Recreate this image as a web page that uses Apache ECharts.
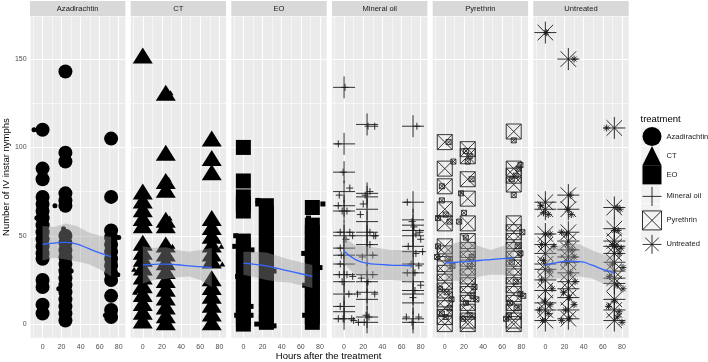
<!DOCTYPE html>
<html>
<head>
<meta charset="utf-8">
<script src="https://cdn.jsdelivr.net/npm/echarts@6/dist/echarts.min.js"></script>
<style>
  html, body { margin: 0; padding: 0; background: #fff; }
  #chart { width: 708px; height: 362px; }
</style>
</head>
<body>
<div id="chart"></div>
<script>
var treatments = ['Azadirachtin', 'CT', 'EO', 'Mineral oil', 'Pyrethrin', 'Untreated'];
var hours = [0, 24, 72];
var xTicks = [0, 20, 40, 60, 80];
var yTicks = [0, 50, 100, 150];
var xMinor = [-10, 10, 30, 50, 70];
var yMinor = [25, 75, 125];

// nymph counts at 0 / 24 / 72 h
var azaH0 = [110, 88, 82, 72, 68, 64, 60, 56, 52, 48, 44, 40, 37, 25, 21, 11, 6];
var azaH24 = [143, 97, 92, 74, 70, 67, 50, 46, 42, 38, 34, 30, 26, 22, 18, 14, 10, 6, 2];
var azaH72 = [105, 72, 53, 49, 45, 41, 37, 33, 29, 25, 16, 8, 4];
var ctH0 = [152, 75, 70, 65, 60, 56, 46, 41, 37, 32, 27, 22, 17, 12, 7, 2];
var ctH24 = [131, 97, 81, 76, 59, 56, 45, 40, 35, 30, 25, 20, 15, 10, 5, 1];
var ctH72 = [105, 94, 86, 60, 55, 50, 45, 40, 36, 26, 21, 16, 11, 6, 1];
var eoH0 = [100, 81, 72, 68, 64, 47, 43, 39, 35, 31, 27, 23, 19, 15, 11, 7, 3, 0];
var eoH24 = [67, 63, 59, 55, 51, 47, 43, 39, 35, 31, 27, 23, 19, 15, 11, 7, 3, 1];
var eoH72 = [66, 56, 52, 48, 44, 40, 36, 32, 28, 24, 20, 16, 12, 8, 4, 1];
var moH0 = [134, 102, 86, 75, 67, 64, 52, 50, 43, 39, 34, 28, 24, 17, 10, 7, 3];
var moH24 = [113, 74, 72, 65, 58, 52, 50, 45, 39, 28, 24, 18, 14, 4, 1];
var moH72 = [112, 69, 59, 56, 53, 50, 44, 41, 34, 29, 24, 19, 17, 12, 3, 1];
var pyrH0 = [103, 88, 78, 65, 57, 44, 40, 34, 29, 24, 19, 14, 9, 4, 0];
var pyrH24 = [99, 95, 82, 71, 57, 47, 42, 37, 32, 27, 22, 17, 12, 7, 2, 0];
var pyrH72 = [109, 88, 84, 79, 57, 52, 47, 42, 37, 32, 27, 22, 17, 12, 7, 2, 0];
var untH0 = [165, 69, 65, 51, 45, 40, 34, 31, 25, 19, 12, 8, 2];
var untH24 = [150, 73, 65, 52, 47, 42, 38, 35, 29, 24, 20, 15, 8, 3];
var untH72 = [111, 66, 54, 47, 44, 40, 35, 30, 26, 23, 14, 8, 2];

// small jittered points [hours, count]
var azaJit = [[-9, 110], [-6, 60], [2, 40], [24, 74], [13, 67], [22, 54], [27, 40], [30, 30], [17, 20], [74, 47], [80, 49], [76, 35], [79, 28], [66, 5]];
var ctJit = [[29, 131], [27, 82], [28, 60], [-9, 31], [31, 44], [-8, 18], [83, 34], [82, 44], [78, 48]];
var eoJit = [[-8, 50], [-9, 44], [-6, 27], [9, 42], [8, 10], [8, 5], [-7, 5], [15, 70], [15, 68], [20, 45], [32, 30], [32, -1], [14, 0], [24, 60], [63, 40], [83, 68], [68, 60], [64, 22], [80, 32], [64, 5], [76, 0]];
var moJit = [[1, 134], [-6, 102], [-1, 86], [6, 77], [-5, 73], [-6, 67], [-2, 64], [3, 64], [-4, 52], [6, 52], [9, 50], [2, 48], [-4, 43], [-3, 39], [-4, 34], [-5, 28], [3, 28], [9, 27], [-2, 24], [5, 17], [-4, 10], [-6, 3], [-1, 3], [8, 3], [10, 2],
  [25, 112], [32, 112], [27, 75], [22, 73], [20, 68], [17, 62], [27, 52], [31, 50], [33, 50], [27, 45], [30, 39], [19, 38], [30, 28], [18, 26], [25, 24], [32, 17], [14, 17], [23, 5], [15, 1], [21, 1], [26, 4],
  [76, 112], [66, 69], [71, 58], [73, 55], [75, 51], [79, 52], [80, 48], [67, 44], [75, 40], [82, 41], [70, 34], [78, 33], [66, 29], [74, 29], [80, 22], [74, 19], [72, 15], [65, 4], [71, 1], [78, 4]];
var pyrJit = [[4, 103], [9, 92], [-3, 78], [-3, 70], [1, 62], [-7, 60], [5, 58], [-7, 44], [-8, 38], [3, 37], [8, 33], [-5, 20], [2, 18], [7, 14], [5, 9], [-3, 6], [1, 4],
  [22, 98], [26, 95], [24, 92], [28, 82], [17, 74], [20, 63], [15, 58], [22, 49], [28, 38], [26, 33], [31, 21], [29, 16], [22, 12], [33, 14], [26, 5], [19, 3],
  [72, 104], [79, 90], [77, 88], [74, 84], [70, 82], [72, 73], [81, 52], [76, 44], [79, 40], [70, 35], [74, 24], [79, 17], [68, 12], [75, 9], [82, 16], [64, 3], [67, 5]];
var untJit = [[-5, 67], [-2, 63], [3, 62], [0, 51], [5, 51], [-4, 45], [9, 44], [-2, 36], [4, 30], [-4, 25], [7, 20], [-1, 13], [5, 11], [-6, 8], [3, 6], [-3, 2],
  [26, 73], [23, 65], [27, 62], [17, 52], [22, 51], [23, 45], [28, 42], [30, 38], [22, 35], [26, 29], [31, 24], [19, 18], [25, 15], [30, 11], [21, 8], [25, 3], [17, 2],
  [75, 66], [78, 65], [72, 53], [76, 53], [70, 45], [74, 44], [79, 43], [77, 40], [70, 34], [81, 32], [67, 27], [75, 22], [81, 20], [72, 13], [66, 10], [77, 7], [75, 4], [80, 1],
  [1, 165], [30, 150], [64, 111]];

// loess fit and confidence band
var smoothX = [0, 12, 24, 36, 48, 60, 72];
var azaFit = [45.2, 45.8, 46.3, 45.3, 42.8, 40.3, 38.2];
var azaLo = [36, 37.5, 36.5, 35.5, 34, 31, 27];
var azaHi = [55.5, 55, 57, 55.5, 52, 50, 49.5];
var ctFit = [33.5, 33.8, 34, 33.6, 33, 32.5, 32];
var ctLo = [23, 25, 25.5, 26.5, 27, 25, 21];
var ctHi = [44, 43, 43.5, 42, 41, 42, 43];
var eoFit = [34.5, 33.8, 33, 31.5, 30, 28.5, 27];
var eoLo = [28, 26.5, 25, 24, 23.5, 22, 20.5];
var eoHi = [41, 41, 40.5, 38.5, 36.5, 35, 33.5];
var moFit = [41.4, 36.5, 34.5, 33.8, 33.4, 33.2, 33];
var moLo = [34, 28, 25, 25, 25, 24.5, 23];
var moHi = [49, 44.5, 44, 43, 42, 42, 42];
var pyrFit = [34.5, 35, 35.4, 36, 36.5, 37, 37.3];
var pyrLo = [24, 24.5, 24, 27, 28, 28, 27];
var pyrHi = [44, 46, 46.7, 44, 42, 44, 46];
var untFit = [33.5, 34.8, 35.6, 35.4, 33.5, 31, 29];
var untLo = [25, 26, 25.5, 27, 26, 23, 21];
var untHi = [42, 44, 46, 45, 42, 39.5, 38];

var counts = [[azaH0, azaH24, azaH72], [ctH0, ctH24, ctH72], [eoH0, eoH24, eoH72],
  [moH0, moH24, moH72], [pyrH0, pyrH24, pyrH72], [untH0, untH24, untH72]];
var jitters = [azaJit, ctJit, eoJit, moJit, pyrJit, untJit];
var fits = [azaFit, ctFit, eoFit, moFit, pyrFit, untFit];
var lows = [azaLo, ctLo, eoLo, moLo, pyrLo, untLo];
var highs = [azaHi, ctHi, eoHi, moHi, pyrHi, untHi];

var FONT = '"Liberation Sans", Arial, sans-serif';
var plusPath = 'path://M0,-10V10M-10,0H10';
var boxPath = 'path://M-10,-10H10V10H-10ZM-10,-10L10,10M10,-10L-10,10';
var starPath = 'path://M0,-10V10M-10,0H10M-7.07,-7.07L7.07,7.07M7.07,-7.07L-7.07,7.07';
var bigSymbols = ['circle', 'triangle', 'rect', plusPath, boxPath, starPath];
var bigSizes = [14, [20, 16], 15, 22, 15, 22];
var smallSizes = [5, [6, 5], 5, 7, 5, 7];
var hollow = [false, false, false, true, true, true];

var panelLeft = [30, 130.7, 231.3, 332, 432.7, 533.3];
var panelW = 95.4;
var panelTop = 16.5;
var panelH = 321.2;

function markStyle(i) {
  if (hollow[i]) {
    return { color: 'none', borderColor: i === 4 ? '#222' : '#1a1a1a', borderWidth: 0.9, opacity: 1 };
  }
  return { color: '#000', borderWidth: 0, opacity: 1 };
}

var grids = [], xAxes = [], yAxes = [], series = [], graphics = [];

treatments.forEach(function (t, i) {
  grids.push({
    left: panelLeft[i], top: panelTop, width: panelW, height: panelH,
    show: true, backgroundColor: '#EBEBEB', borderWidth: 0
  });
  xAxes.push({
    gridIndex: i, type: 'value', min: -12.6, max: 87,
    axisLine: { show: false },
    splitLine: { show: false },
    axisTick: { show: true, length: 2.7, lineStyle: { color: '#333', width: 0.8 }, customValues: xTicks },
    axisLabel: { color: '#4D4D4D', fontSize: 7, fontFamily: FONT, margin: 6, customValues: xTicks }
  });
  yAxes.push({
    gridIndex: i, type: 'value', min: -7.7, max: 174.1,
    show: i === 0,
    axisLine: { show: false },
    splitLine: { show: false },
    axisTick: { show: i === 0, length: 2.7, lineStyle: { color: '#333', width: 0.8 }, customValues: yTicks },
    axisLabel: { show: i === 0, color: '#4D4D4D', fontSize: 7, fontFamily: FONT, margin: 4, customValues: yTicks },
    name: i === 0 ? 'Number of IV instar nymphs' : '',
    nameLocation: 'middle', nameRotate: 90, nameGap: 17,
    nameTextStyle: { color: '#000', fontSize: 9.5, fontFamily: FONT }
  });

  var major = { color: '#fff', width: 1.1, type: 'solid' };
  var minor = { color: '#fff', width: 0.55, type: 'solid' };
  var lines = [];
  xTicks.forEach(function (v) { lines.push({ xAxis: v, lineStyle: major }); });
  xMinor.forEach(function (v) { lines.push({ xAxis: v, lineStyle: minor }); });
  yTicks.forEach(function (v) { lines.push({ yAxis: v, lineStyle: major }); });
  yMinor.forEach(function (v) { lines.push({ yAxis: v, lineStyle: minor }); });

  var big = [];
  hours.forEach(function (h, k) {
    counts[i][k].forEach(function (v) { big.push([h, v]); });
  });
  series.push({
    name: t, type: 'scatter', xAxisIndex: i, yAxisIndex: i,
    symbol: bigSymbols[i], symbolSize: bigSizes[i],
    itemStyle: markStyle(i),
    data: big, z: 2, silent: true, animation: false,
    markLine: {
      silent: true, symbol: 'none', animation: false, z: 1,
      label: { show: false }, emphasis: { disabled: true },
      data: lines
    }
  });
  series.push({
    name: t + ' jitter', type: 'scatter', xAxisIndex: i, yAxisIndex: i,
    symbol: bigSymbols[i], symbolSize: smallSizes[i],
    itemStyle: markStyle(i),
    data: jitters[i], z: 2, silent: true, animation: false
  });

  // confidence band as one polygon through the axes
  series.push({
    name: t + ' band', type: 'custom', xAxisIndex: i, yAxisIndex: i, z: 3, silent: true, animation: false,
    data: [[i]],
    renderItem: function (params, api) {
      var p = Number(api.value(0));
      var pts = [];
      smoothX.forEach(function (x, k) { pts.push(api.coord([x, highs[p][k]])); });
      for (var k = smoothX.length - 1; k >= 0; k--) { pts.push(api.coord([smoothX[k], lows[p][k]])); }
      return {
        type: 'polygon',
        shape: { points: pts },
        style: { fill: 'rgba(153,153,153,0.4)', stroke: 'none' }
      };
    }
  });
  series.push({
    name: t + ' fit', type: 'line', xAxisIndex: i, yAxisIndex: i,
    smooth: true, symbol: 'none', lineStyle: { color: '#3366FF', width: 1.3 }, z: 4, silent: true, animation: false,
    data: smoothX.map(function (x, k) { return [x, fits[i][k]]; })
  });

  // facet strip
  graphics.push({
    type: 'rect', left: panelLeft[i], top: 1, z: 0,
    shape: { width: panelW, height: 15 }, style: { fill: '#D9D9D9' }
  });
  graphics.push({
    type: 'text', x: panelLeft[i] + panelW / 2, y: 8.7, z: 1,
    style: { text: t, fill: '#1A1A1A', fontSize: 7.6, fontFamily: FONT, align: 'center', verticalAlign: 'middle' }
  });
});

// legend key backgrounds and titles
treatments.forEach(function (t, k) {
  graphics.push({
    type: 'rect', left: 641, top: 127.4 + k * 19.2, z: 0,
    shape: { width: 19, height: 18.4 }, style: { fill: '#F2F2F2' }
  });
});
graphics.push({
  type: 'text', x: 640.5, y: 119, z: 1,
  style: { text: 'treatment', fill: '#000', fontSize: 9.5, fontFamily: FONT, align: 'left', verticalAlign: 'middle' }
});
graphics.push({
  type: 'text', x: 328.6, y: 356, z: 1,
  style: { text: 'Hours after the treatment', fill: '#000', fontSize: 9.5, fontFamily: FONT, align: 'center', verticalAlign: 'middle' }
});

var chart = echarts.init(document.getElementById('chart'), null, { renderer: 'canvas' });
chart.setOption({
  backgroundColor: '#fff',
  animation: false,
  grid: grids,
  xAxis: xAxes,
  yAxis: yAxes,
  graphic: graphics,
  legend: {
    orient: 'vertical', left: 640, top: 127, padding: 0,
    itemWidth: 19, itemHeight: 19.2, itemGap: 0,
    selectedMode: false,
    textStyle: { fontSize: 7.6, color: '#1A1A1A', fontFamily: FONT },
    data: treatments.map(function (t, i) {
      return {
        name: t,
        icon: bigSymbols[i],
        itemStyle: hollow[i] ? { color: 'none', borderColor: '#1a1a1a', borderWidth: 0.9 } : { color: '#000', borderWidth: 0 }
      };
    })
  },
  series: series
});
</script>
</body>
</html>
